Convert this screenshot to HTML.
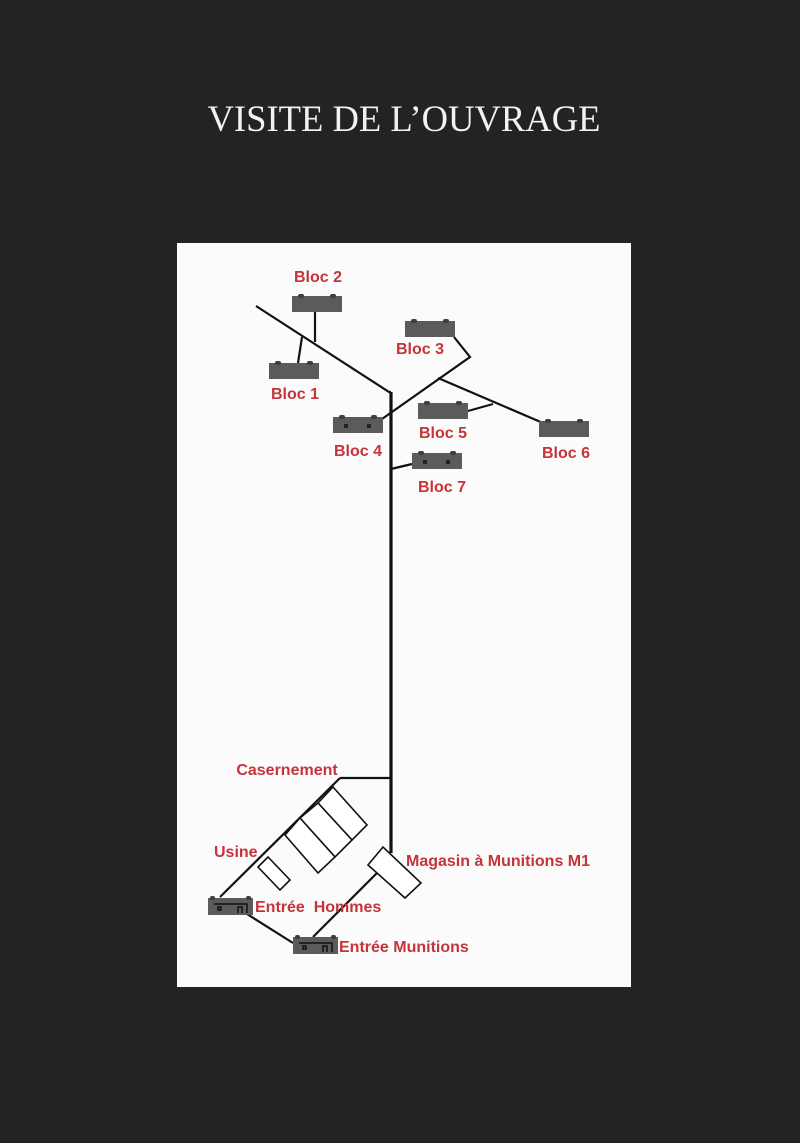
<!DOCTYPE html>
<html><head><meta charset="utf-8"><style>
html,body{margin:0;padding:0;background:#222322;}
svg{display:block}
.l{font-family:"Liberation Sans",sans-serif;font-weight:bold;font-size:16px;fill:#c4343a}
</style></head><body>
<svg width="800" height="1143" viewBox="0 0 800 1143" xmlns="http://www.w3.org/2000/svg">
<defs>
<g id="bx">
<rect x="0" y="2" width="50" height="16" fill="#5c5b5b"/>
<rect x="6" y="0" width="6" height="4" rx="2" fill="#3e3e3e"/>
<rect x="38" y="0" width="6" height="4" rx="2" fill="#3e3e3e"/>
</g>
<g id="bx2">
<use href="#bx"/>
<rect x="11" y="9" width="4" height="4" fill="#222"/>
<rect x="34" y="9" width="4" height="4" fill="#222"/>
</g>
<g id="ent">
<rect x="0" y="2" width="45" height="17" fill="#5c5b5b"/>
<rect x="2" y="0" width="5" height="4" rx="2" fill="#3e3e3e"/>
<rect x="38" y="0" width="5" height="4" rx="2" fill="#3e3e3e"/>
<path d="M6 8 H39 V17 M34 17 V11 H30 V17 M10 11 h3 v3 h-3z" fill="none" stroke="#111" stroke-width="1.5"/>
</g>
</defs>
<rect width="800" height="1143" fill="#222322"/>
<text x="404" y="131" text-anchor="middle" font-family="'Liberation Serif',serif" font-size="37" fill="#f2f2f2" textLength="393" lengthAdjust="spacingAndGlyphs">VISITE DE L’OUVRAGE</text>
<rect x="177" y="243" width="454" height="744" fill="#fbfbfb"/>
<g stroke="#111" fill="none" stroke-width="2.2">
<path d="M256 306 L389 392 L391 392"/>
<path d="M391 392 V853" stroke-width="3.2"/>
<path d="M315 312 V342"/>
<path d="M298 363 L302 337"/>
<path d="M454 337 L470 357 L382 419"/>
<path d="M438 378 L543 423"/>
<path d="M468 411 L493 404"/>
<path d="M391 469 L412 464"/>
<path d="M340 778 H391"/>
<path d="M340 778 L220 897"/>
<path d="M377 873 L313 937"/>
<path d="M247 914 L293 943"/>
</g>
<g stroke="#111" fill="#fff" stroke-width="1.6">
<path d="M333 787 L367 825 L352 840 L318 803 Z"/>
<path d="M318 803 L352 840 L335 857 L300 818 Z"/>
<path d="M300 818 L335 857 L318 873 L285 835 Z"/>
<path d="M258 867 L268 857 L290 880 L280 890 Z"/>
<path d="M368 865 L383 847 L421 883 L405 898 Z"/>
</g>
<use href="#bx" x="292" y="294"/>
<use href="#bx" x="269" y="361"/>
<use href="#bx" x="405" y="319"/>
<use href="#bx2" x="333" y="415"/>
<use href="#bx" x="418" y="401"/>
<use href="#bx" x="539" y="419"/>
<use href="#bx2" x="412" y="451"/>
<use href="#ent" x="208" y="896"/>
<use href="#ent" x="293" y="935"/>
<text class="l" x="318" y="282" text-anchor="middle">Bloc 2</text>
<text class="l" x="295" y="399" text-anchor="middle">Bloc 1</text>
<text class="l" x="420" y="354" text-anchor="middle">Bloc 3</text>
<text class="l" x="358" y="456" text-anchor="middle">Bloc 4</text>
<text class="l" x="443" y="438" text-anchor="middle">Bloc 5</text>
<text class="l" x="566" y="458" text-anchor="middle">Bloc 6</text>
<text class="l" x="442" y="492" text-anchor="middle">Bloc 7</text>
<text class="l" x="287" y="775" text-anchor="middle" font-size="15">Casernement</text>
<text class="l" x="214" y="857" font-size="15">Usine</text>
<text class="l" x="406" y="866" font-size="15">Magasin à Munitions M1</text>
<text class="l" x="255" y="912" font-size="15">Entrée&#160; Hommes</text>
<text class="l" x="339" y="952" font-size="15">Entrée Munitions</text>
</svg>
</body></html>
